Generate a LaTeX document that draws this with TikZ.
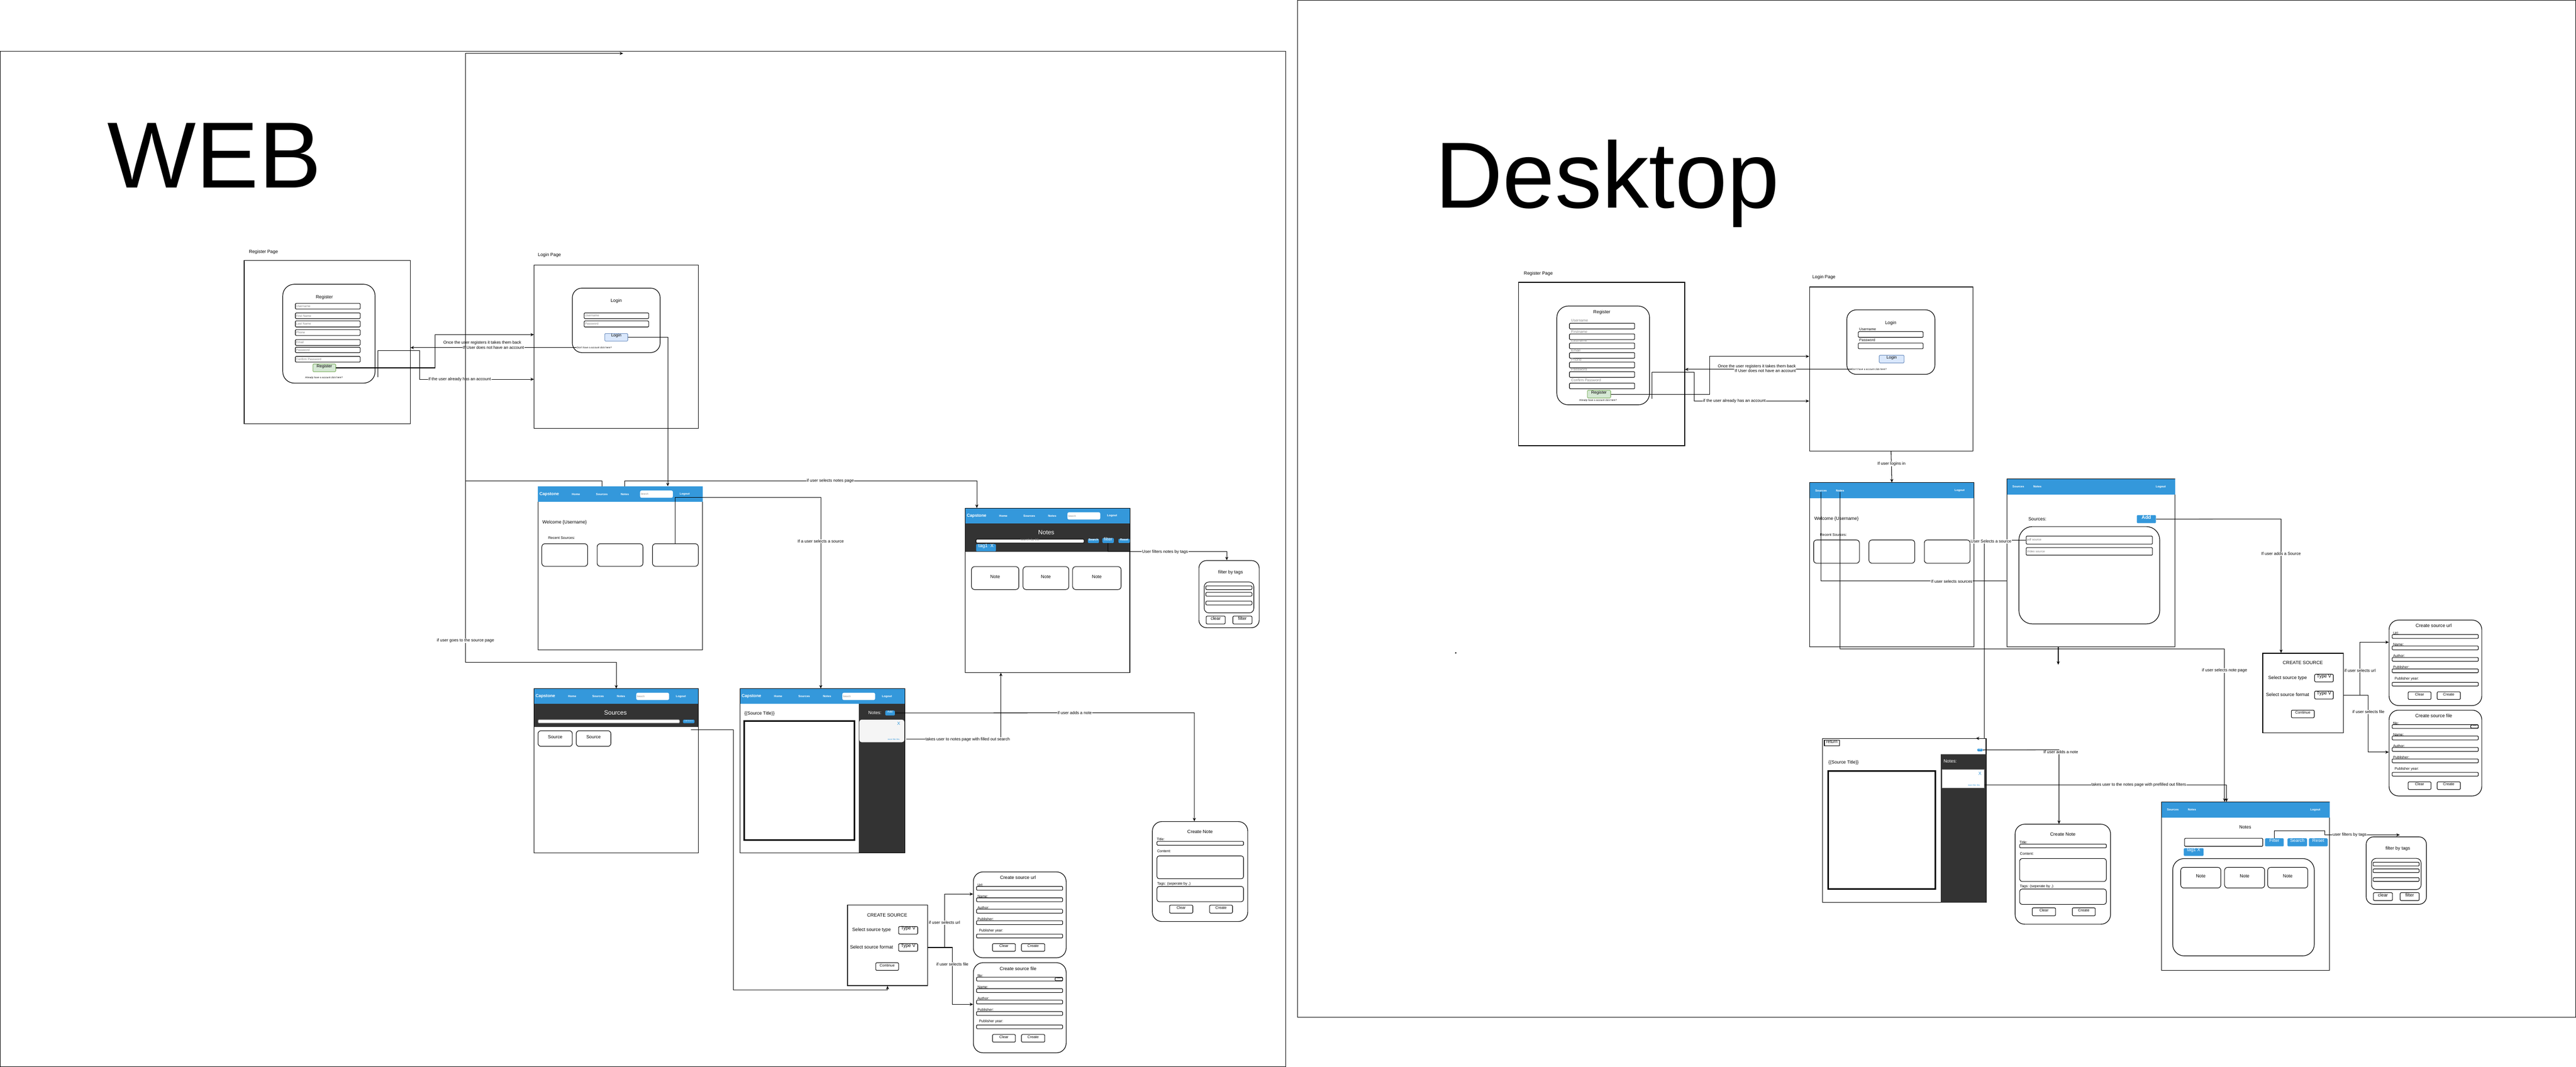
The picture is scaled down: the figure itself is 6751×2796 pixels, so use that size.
\documentclass[tikz,border=0pt]{standalone}
\usepackage{fontspec}
\setmainfont{Liberation Sans}
\usetikzlibrary{arrows.meta, fit, positioning}

\definecolor{navblue}{HTML}{3498DB}
\definecolor{darkband}{HTML}{333333}
\definecolor{regfill}{HTML}{D5E8D4}
\definecolor{regline}{HTML}{82B366}
\definecolor{logfill}{HTML}{DAE8FC}
\definecolor{logline}{HTML}{6C8EBF}
\definecolor{hintgray}{HTML}{808080}
\definecolor{cardgray}{HTML}{F5F5F5}
\definecolor{linkblue}{HTML}{3498DB}

\newcommand{\fs}[1]{\fontsize{#1}{#1}\selectfont}
\newcommand{\ui}[5][]{\node[#1, fit={(#3) (#4)}] (#2) {#5};}

\tikzset{
  page/.style={draw, line width=0.45pt, inner sep=0pt},
  card/.style={draw, line width=0.45pt, rounded corners=0.25cm, inner sep=0pt},
  listbox/.style={draw, line width=0.4pt, rounded corners=0.12cm, inner sep=0pt},
  tile/.style={draw, line width=0.4pt, rounded corners=0.08cm, inner sep=0pt, font=\fs{3.4}},
  field/.style={draw, line width=0.4pt, rounded corners=0.02cm, inner sep=0pt, fill=white},
  area/.style={draw, line width=0.4pt, rounded corners=0.06cm, inner sep=0pt},
  navbar/.style={fill=navblue, inner sep=0pt},
  band/.style={fill=darkband, inner sep=0pt},
  navtxt/.style={text=white, font=\fs{2.2}\bfseries, inner sep=0pt},
  brand/.style={text=white, font=\fs{3.2}\bfseries, inner sep=0pt},
  searchbox/.style={fill=white, rounded corners=0.04cm, inner sep=0pt},
  bluebtn/.style={fill=navblue, text=white, rounded corners=0.02cm, inner sep=0pt},
  okbtn/.style={draw, line width=0.4pt, rounded corners=0.03cm, inner sep=0pt, font=\fs{2.8}},
  hint/.style={text=hintgray, font=\fs{2.3}, inner sep=0pt},
  flbl/.style={font=\fs{2.7}, inner sep=0pt},
  ttl/.style={font=\fs{3.5}, inner sep=0pt},
  txt/.style={font=\fs{3.4}, inner sep=0pt},
  lbl/.style={fill=white, font=\fs{3.1}, inner sep=0.3pt},
  fine/.style={font=\fs{1.8}, inner sep=0pt},
  flow/.style={line width=0.4pt, -{Stealth[length=0.9mm, width=0.8mm]}},
  wire/.style={line width=0.4pt},
  doc/.style={draw, line width=1.2pt, inner sep=0pt},
}

% web header bar contents
\newcommand{\webnav}[1]{%
  \node[brand] (#1cap) at ([xshift=0.30cm]#1.west) {Capstone};
  \node[navtxt] (#1home) at ([xshift=1.00cm]#1.west) {Home};
  \node[navtxt] (#1src) at ([xshift=1.68cm]#1.west) {Sources};
  \node[navtxt] (#1nts) at ([xshift=2.28cm]#1.west) {Notes};
  \node[searchbox, minimum width=0.86cm, minimum height=0.19cm] (#1find) at ([xshift=3.11cm]#1.west) {};
  \node[hint, font=\fs{1.8}, anchor=west] (#1hint) at ([xshift=0.02cm]#1find.west) {Search};
  \node[navtxt] (#1out) at ([xshift=3.85cm]#1.west) {Logout};
}
% desktop header bar contents
\newcommand{\desknav}[1]{%
  \node[navtxt] (#1src) at ([xshift=0.30cm]#1.west) {Sources};
  \node[navtxt] (#1nts) at ([xshift=0.80cm]#1.west) {Notes};
  \node[navtxt] (#1out) at ([xshift=-0.38cm]#1.east) {Logout};
}
% create source form (name, x, y, height, title, first label)
\newcommand{\srcform}[6]{%
  \ui[card]{#1}{#2,#3}{#2+243,#3+#4}{}
  \node[ttl] (#1ttl) at (#2+117,#3+15) {#5};
  \node[flbl, anchor=west] (#1l1) at (#2+10,#3+34) {#6};
  \ui[field]{#1f1}{#2+8,#3+38}{#2+234,#3+48}{}
  \foreach \k/\lab/\ly in {2/Name:/64, 3/Author:/94, 4/Publisher:/124} {
    \node[flbl, anchor=west] (#1l\k) at (#2+10,#3+\ly) {\lab};
    \ui[field]{#1f\k}{#2+8,#3+\ly+4}{#2+234,#3+\ly+14}{}
  }
  \node[flbl, anchor=west] (#1l5) at (#2+14,#3+154) {Publisher year:};
  \ui[field]{#1f5}{#2+8,#3+163}{#2+234,#3+173}{}
  \ui[okbtn]{#1clr}{#2+50,#3+188}{#2+110,#3+208}{Clear}
  \ui[okbtn]{#1mk}{#2+126,#3+188}{#2+187,#3+208}{Create}
}
% create note form (name, x, y)
\newcommand{\noteform}[3]{%
  \ui[card]{#1}{#2,#3}{#2+250,#3+262}{}
  \node[ttl] (#1ttl) at (#2+125,#3+27) {Create Note};
  \node[flbl, anchor=west] (#1l1) at (#2+11,#3+47) {Title:};
  \ui[field]{#1f1}{#2+12,#3+52}{#2+239,#3+62}{}
  \node[flbl, anchor=west] (#1l2) at (#2+12,#3+78) {Content:};
  \ui[area]{#1f2}{#2+12,#3+90}{#2+239,#3+150}{}
  \node[flbl, anchor=west] (#1l3) at (#2+12,#3+163) {Tags: (seperate by ,)};
  \ui[area]{#1f3}{#2+12,#3+170}{#2+239,#3+210}{}
  \ui[okbtn]{#1clr}{#2+45,#3+219}{#2+106,#3+240}{Clear}
  \ui[okbtn]{#1mk}{#2+150,#3+219}{#2+210,#3+240}{Create}
}
% tag filter popup (name, x, y, height)
\newcommand{\tagfilter}[4]{%
  \ui[card, rounded corners=0.2cm]{#1}{#2,#3}{#2+158,#3+#4}{}
  \node[txt] (#1ttl) at (#2+83,#3+0.179*#4) {filter by tags};
  \ui[listbox]{#1list}{#2+14,#3+0.32*#4}{#2+144,#3+0.78*#4}{}
  \foreach \k/\ta/\tb in {1/0.377/0.432, 2/0.475/0.53, 3/0.605/0.66} {
    \ui[field]{#1r\k}{#2+18,#3+\ta*#4}{#2+139,#3+\tb*#4}{}
  }
  \ui[okbtn, font=\fs{3.4}]{#1clr}{#2+19,#3+0.827*#4}{#2+69,#3+0.944*#4}{clear}
  \ui[okbtn, font=\fs{3.4}]{#1go}{#2+89,#3+0.827*#4}{#2+139,#3+0.944*#4}{filter}
}

\begin{document}
\begin{tikzpicture}[x=0.01cm, y=-0.01cm]
\useasboundingbox (0,0) rectangle (6751,2796);

%frames and titles
\ui[page, line width=0.4pt]{webframe}{1,134}{3370,2795}{}
\ui[page, line width=0.4pt]{deskframe}{3400,1}{6750,2666}{}
\node[font=\fs{70}, anchor=base west, inner sep=0pt] (webttl) at (281,492) {WEB};
\node[font=\fs{70}, anchor=base west, inner sep=0pt] (deskttl) at (3760,545) {Desktop};
\fill (3815,1711) circle[radius=0.02cm];

%web register page
\node[txt, anchor=west] (wreglbl) at (652,660) {Register Page};
\ui[page]{wregpage}{640,683}{1075,1111}{}
\ui[card, rounded corners=0.3cm]{wregcard}{741,745}{983,1004}{}
\node[txt] (wregttl) at (850,779) {Register};
\foreach \nm/\ya/\yb/\tx in {wru/795/810/Username, wrf/820/835/First Name, wrl/841/857/Last Name, wrp/864/879/Phone, wre/890/905/Email, wrw/910/924/Password, wrc/934/949/Confirm Password} {
  \ui[field]{\nm}{774,\ya}{944,\yb}{}
  \node[hint, anchor=west] (\nm-t) at ([xshift=0.02cm]\nm.west) {\tx};
}
\ui[fill=regfill, draw=regline, rounded corners=0.02cm, inner sep=0pt, font=\fs{3.1}]{wregbtn}{820,954}{880,974}{Register}
\node[fine] (wregold) at (849,990) {Already have a account click here?};

%web login page
\node[txt, anchor=west] (wloglbl) at (1409,668) {Login Page};
\ui[page]{wlogpage}{1400,695}{1830,1123}{}
\ui[card]{wlogcard}{1500,755}{1730,924}{}
\node[txt] (wlogttl) at (1615,789) {Login};
\ui[field]{wlu}{1531,820}{1700,835}{}
\node[hint, anchor=west] (wlu-t) at ([xshift=0.02cm]wlu.west) {Username};
\ui[field]{wlp}{1531,841}{1700,857}{}
\node[hint, anchor=west] (wlp-t) at ([xshift=0.02cm]wlp.west) {Password};
\ui[fill=logfill, draw=logline, rounded corners=0.02cm, inner sep=0pt, font=\fs{3.1}]{wlogbtn}{1585,874}{1645,894}{Login}
\node[fine, anchor=west] (wlogno) at (1511,911) {Don't have a account click here?};

%web register <-> login
\coordinate (wjoin) at (1140,877);
\draw[flow] (wregbtn.east) -| (wjoin) -- (wjoin -| wlogpage.west);
\draw[flow] (wlogno.west) -- (wlogno.west -| wregpage.east) node[lbl, pos=0.5] (wnoacc) {If User does not have an account};
\node[lbl] (wback) at (1264,898) {Once the user registers it takes them back};
\coordinate (wold) at (991,989);
\coordinate (wbendA) at (1100,919);
\coordinate (wbendB) at (1100,994);
\draw[flow] (wold) |- (wbendA) -- (wbendB) -- (wbendB -| wlogpage.west) node[lbl, pos=0.35] (whasacc) {if the user already has an account};

%web home page
\ui[page]{whome}{1410,1275}{1841,1703}{}
\ui[navbar]{whomebar}{1410,1275}{1841,1315}{}
\webnav{whomebar}
\node[txt, anchor=west] (whomehi) at (1421,1369) {Welcome \{Username\}};
\node[flbl, anchor=west] (whomerec) at (1436,1410) {Recent Sources:};
\ui[tile]{whc1}{1420,1425}{1540,1484}{}
\ui[tile]{whc2}{1565,1425}{1685,1484}{}
\ui[tile]{whc3}{1710,1425}{1830,1484}{}

%web login -> home
\coordinate (wlogturn) at (1750,884);
\draw[flow] (wlogbtn.east) -- (wlogturn) -- (wlogturn |- whome.north);

%web sources page
\ui[page]{wsrc}{1400,1805}{1830,2235}{}
\ui[navbar]{wsrcbar}{1400,1805}{1830,1845}{}
\webnav{wsrcbar}
\ui[band]{wsrcband}{1400,1845}{1830,1905}{}
\node[txt, text=white, font=\fs{4.6}] (wsrcttl) at (1613,1868) {Sources};
\ui[field, draw=hintgray]{wsrcfind}{1410,1886}{1781,1895}{}
\ui[bluebtn, font=\fs{1.2}]{wsrcadd}{1790,1886}{1820,1895}{Add Source}
\ui[tile]{wsc1}{1410,1915}{1500,1956}{Source}
\ui[tile]{wsc2}{1510,1915}{1601,1956}{Source}

%web source view
\ui[page]{wview}{1940,1805}{2371,2235}{}
\ui[navbar]{wviewbar}{1940,1805}{2371,1845}{}
\webnav{wviewbar}
\ui[band]{wviewside}{2251,1845}{2371,2235}{}
\node[txt, anchor=west] (wviewttl) at (1950,1870) {\{\{Source Title\}\}};
\ui[doc]{wviewdoc}{1950,1889}{2239,2201}{}
\node[txt, text=white] (wviewnts) at (2293,1868) {Notes:};
\ui[bluebtn, font=\fs{2.2}]{wviewadd}{2320,1862}{2345,1875}{Add}
\ui[fill=cardgray, rounded corners=0.06cm, inner sep=0pt]{wviewnote}{2252,1886}{2370,1945}{}
\node[txt, text=linkblue] (wviewx) at (2355,1896) {X};
\node[fine, text=linkblue, font=\fs{1.5}] (wviewmore) at (2342,1938) {more like this};

%web notes page
\ui[page]{wnotes}{2530,1332}{2961,1763}{}
\ui[navbar]{wnotesbar}{2530,1332}{2961,1372}{}
\webnav{wnotesbar}
\ui[band]{wnotesband}{2530,1372}{2961,1446}{}
\node[txt, text=white, font=\fs{4.6}] (wnotesttl) at (2742,1395) {Notes};
\ui[field, text=hintgray, font=\fs{2.3}]{wnfind}{2558,1413}{2841,1423}{search by title}
\ui[bluebtn, font=\fs{2.2}\bfseries]{wnsearch}{2851,1412}{2880,1423}{Search}
\ui[bluebtn, font=\fs{3.3}]{wnfilter}{2889,1410}{2919,1423}{filter}
\ui[bluebtn, font=\fs{2.2}\bfseries]{wnreset}{2931,1412}{2961,1423}{Reset}
\ui[bluebtn, font=\fs{3.6}]{wntag}{2558,1426}{2610,1445}{tag1\ \ X}
\ui[tile]{wnc1}{2546,1485}{2670,1545}{Note}
\ui[tile]{wnc2}{2681,1485}{2801,1545}{Note}
\ui[tile]{wnc3}{2811,1485}{2938,1545}{Note}
\tagfilter{wfbox}{3142}{1469}{176}

%web create note
\noteform{wnote}{3020}{2153}

%web create source
\ui[page]{wcs}{2221,2372}{2431,2583}{}
\node[ttl] (wcsttl) at (2325,2398) {CREATE SOURCE};
\node[ttl] (wcstypel) at (2284,2437) {Select source type};
\ui[okbtn, font=\fs{3.5}]{wcstype}{2355,2428}{2405,2448}{Type V}
\node[ttl] (wcsfmtl) at (2284,2482) {Select source format};
\ui[okbtn, font=\fs{3.5}]{wcsfmt}{2355,2473}{2405,2493}{Type V}
\ui[okbtn]{wcsgo}{2295,2523}{2355,2543}{Continue}
\srcform{wcurl}{2551}{2285}{225}{Create source url}{Url:}
\srcform{wcfile}{2551}{2523}{236}{Create source file}{file:}
\ui[field, font=\fs{2.4}]{wcfilepick}{2765,2562}{2785,2570}{{-}{-}{-}}

%web connectors
\coordinate (wntsturn) at (2560,1261);
\draw[flow] (whomebarnts |- whomebar.north) |- (wntsturn) -- (wntsturn |- wnotes.north);
\node[lbl] (wntslbl) at (2176,1260) {if user selects notes page};
\coordinate (wcardturn) at (2151,1303);
\draw[flow] (whc3.north) |- (wcardturn) -- (wcardturn |- wview.north) node[lbl, pos=0.23] (wcardlbl) {If a user selects a source};
\coordinate (waddturn) at (3130,1868);
\draw[flow] (wviewadd.east) -- (waddturn) node[lbl, pos=0.6] (waddlbl) {if user adds a note} -- (waddturn |- wnote.north);
\coordinate (wmore) at (2375,1937);
\coordinate (wmoreup) at (2623,1763);
\draw[flow] (wmore) -| (wmoreup);
\node[lbl] (wmorelbl) at (2536,1938) {takes user to notes page with filled out search};
\coordinate (wfturn) at (3215,1446);
\draw[flow] (wnfilter.south) |- (wfturn) node[lbl, pos=0.74] (wflbl) {User filters notes by tags} -- (wfturn |- wfbox.north);
\coordinate (wsrcfree) at (1811,1912);
\coordinate (wsrcdown) at (1922,2595);
\draw[flow] (wsrcfree) -| (wsrcdown) -| (wcs.south);
\coordinate (wcsurl) at (2475,2343);
\coordinate (wcsfile) at (2496,2632);
\draw[flow] (wcs.east |- wcsfmt) -| (wcsurl) -- (wcsurl -| wcurl.west);
\draw[flow] (wcs.east |- wcsfmt) -| (wcsfile) -- (wcsfile -| wcfile.west);
\node[lbl] (wurllbl) at (2475,2418) {if user selects url};
\node[lbl] (wfilelbl) at (2496,2527) {if user selects file};
\coordinate (wbus) at (1220,1261);
\coordinate (wbusend) at (1220,1736);
\coordinate (wtop) at (1633,140);
\draw[flow] (whomebarsrc |- whomebar.north) |- (wbus) -- (wbusend) node[lbl, pos=0.88] (wbuslbl) {if user goes to the source page} -| (wsrcbar.north);
\draw[flow] (wbus) -- (wbus |- wtop) -- (wtop);

%desktop register page
\node[txt, anchor=west] (dreglbl) at (3993,717) {Register Page};
\ui[page]{dregpage}{3980,740}{4415,1168}{}
\ui[card, rounded corners=0.3cm]{dregcard}{4080,802}{4323,1061}{}
\node[txt] (dregttl) at (4198,819) {Register};
\foreach \nm/\tx/\ly/\ya/\yb in {dru/Username/840/847/862, drf/Firstname/870/875/890, drl/Lastname/893/899/914, dre/Email/918/924/939, drp/Phone/943/949/964, drw/Password/968/974/989, drc/Confirm Password/997/1004/1019} {
  \node[flbl, text=hintgray, anchor=west] (\nm-t) at (4117,\ly) {\tx};
  \ui[field]{\nm}{4113,\ya}{4284,\yb}{}
}
\ui[fill=regfill, draw=regline, rounded corners=0.02cm, inner sep=0pt, font=\fs{3.1}]{dregbtn}{4160,1023}{4221,1043}{Register}
\node[fine] (dregold) at (4188,1049) {Already have a account click here?};

%desktop login page
\node[txt, anchor=west] (dloglbl) at (4749,726) {Login Page};
\ui[page]{dlogpage}{4742,752}{5170,1182}{}
\ui[card]{dlogcard}{4840,812}{5071,981}{}
\node[txt] (dlogttl) at (4955,847) {Login};
\node[flbl, anchor=west] (dlu-t) at (4872,863) {Username};
\ui[field]{dlu}{4870,869}{5040,884}{}
\node[flbl, anchor=west] (dlp-t) at (4872,891) {Password};
\ui[field]{dlp}{4870,899}{5040,914}{}
\ui[fill=logfill, draw=logline, rounded corners=0.02cm, inner sep=0pt, font=\fs{3.1}]{dlogbtn}{4925,931}{4990,951}{Login}
\node[fine, anchor=west] (dlogno) at (4852,968) {Don't have a account click here?};

%desktop register <-> login
\coordinate (djoin) at (4480,934);
\draw[flow] (dregbtn.east) -| (djoin) -- (djoin -| dlogpage.west);
\draw[flow] (dlogno.west) -- (dlogno.west -| dregpage.east);
\node[lbl, anchor=east] (dnoacc) at (4708,972) {If User does not have an account};
\node[lbl, anchor=east] (dback) at (4708,961) {Once the user registers it takes them back};
\coordinate (dold) at (4330,1045);
\coordinate (dbendA) at (4440,976);
\coordinate (dbendB) at (4440,1051);
\draw[flow] (dold) |- (dbendA) -- (dbendB) -- (dbendB -| dlogpage.west) node[lbl, pos=0.35] (dhasacc) {if the user already has an account};

%desktop home page
\ui[page]{dhome}{4743,1265}{5173,1695}{}
\ui[navbar]{dhomebar}{4743,1265}{5173,1306}{}
\desknav{dhomebar}
\node[txt, anchor=west] (dhomehi) at (4754,1360) {Welcome \{Username\}};
\node[flbl, anchor=west] (dhomerec) at (4769,1401) {Recent Sources:};
\ui[tile]{dhc1}{4753,1415}{4873,1476}{}
\ui[tile]{dhc2}{4898,1415}{5018,1476}{}
\ui[tile]{dhc3}{5043,1415}{5163,1476}{}
\draw[flow] (dlogpage.south) -- (dhome.north) node[lbl, pos=0.4] (dinlbl) {If user logins in};

%desktop sources page
\ui[page]{dsrc}{5260,1255}{5700,1695}{}
\ui[navbar]{dsrcbar}{5260,1255}{5700,1296}{}
\desknav{dsrcbar}
\node[txt, anchor=west] (dsrcttl) at (5315,1360) {Sources:};
\ui[bluebtn, font=\fs{3.6}\bfseries]{dsrcadd}{5600,1350}{5650,1371}{Add}
\ui[card, rounded corners=0.35cm]{dsrclist}{5291,1380}{5660,1635}{}
\ui[field]{dpdf}{5310,1405}{5641,1426}{}
\node[hint, anchor=west] (dpdf-t) at ([xshift=0.02cm]dpdf.west) {pdf source};
\ui[field]{dvid}{5310,1435}{5641,1455}{}
\node[hint, anchor=west] (dvid-t) at ([xshift=0.02cm]dvid.west) {Video source};

%desktop create source
\ui[page]{dcs}{5930,1712}{6141,1921}{}
\node[ttl] (dcsttl) at (6035,1737) {CREATE SOURCE};
\node[ttl] (dcstypel) at (5995,1777) {Select source type};
\ui[okbtn, font=\fs{3.5}]{dcstype}{6066,1767}{6115,1787}{Type V}
\node[ttl] (dcsfmtl) at (5995,1821) {Select source format};
\ui[okbtn, font=\fs{3.5}]{dcsfmt}{6066,1811}{6115,1832}{Type V}
\ui[okbtn]{dcsgo}{6005,1861}{6065,1881}{Continue}
\srcform{dcurl}{6261}{1625}{224}{Create source url}{Url:}
\srcform{dcfile}{6261}{1861}{225}{Create source file}{file:}
\ui[field, font=\fs{2.4}]{dcfilepick}{6475,1900}{6495,1908}{{-}{-}{-}}

%desktop source view
\ui[page]{dview}{4776,1936}{5205,2365}{}
\ui[draw, line width=0.4pt, inner sep=0pt, font=\fs{3.2}]{dviewback}{4781,1940}{4821,1955}{return}
\ui[band]{dviewside}{5086,1976}{5205,2365}{}
\ui[bluebtn, font=\fs{1.4}]{dviewadd}{5182,1962}{5196,1969}{Add}
\node[txt, text=white, anchor=west] (dviewnts) at (5093,1995) {Notes:};
\ui[fill=white, draw=hintgray, line width=0.4pt, inner sep=0pt]{dviewnote}{5090,2016}{5200,2065}{}
\node[txt, text=linkblue] (dviewx) at (5189,2027) {X};
\node[fine, text=linkblue, font=\fs{1.5}] (dviewmore) at (5173,2058) {more like this};
\node[txt, anchor=west] (dviewttl) at (4791,1998) {\{\{Source Title\}\}};
\ui[doc]{dviewdoc}{4791,2021}{5072,2330}{}

%desktop create note
\noteform{dnote}{5281}{2160}

%desktop notes page
\ui[page]{dnotes}{5665,2102}{6105,2543}{}
\ui[navbar]{dnotesbar}{5665,2102}{6105,2143}{}
\desknav{dnotesbar}
\node[txt] (dnotesttl) at (5884,2168) {Notes};
\ui[field]{dnfind}{5725,2197}{5930,2218}{}
\ui[bluebtn, font=\fs{3.4}]{dnfilter}{5936,2197}{5985,2218}{Filter}
\ui[bluebtn, font=\fs{3.4}]{dnsearch}{5995,2197}{6046,2218}{Search}
\ui[bluebtn, font=\fs{3.4}]{dnreset}{6051,2197}{6100,2218}{Reset}
\ui[bluebtn, font=\fs{3.4}]{dntag}{5723,2223}{5775,2243}{tag1\ X}
\ui[card, rounded corners=0.3cm]{dnlist}{5694,2250}{6065,2505}{}
\ui[tile]{dnc1}{5715,2273}{5820,2327}{Note}
\ui[tile]{dnc2}{5830,2273}{5935,2327}{Note}
\ui[tile]{dnc3}{5943,2273}{6048,2327}{Note}
\tagfilter{dfbox}{6201}{2193}{177}

%desktop connectors
\coordinate (dsrcturn) at (4773,1522);
\draw[wire] (dhomebarsrc.south) |- (dsrcturn -| dsrc.west);
\node[lbl] (dsrclbl) at (5115,1524) {If user selects sources};
\coordinate (dntsturn) at (5830,1701);
\draw[flow] (dhomebarnts.south) |- (dntsturn) -- (dntsturn |- dnotes.north) node[lbl, pos=0.14] (dntslbl) {if user selects note page};
\coordinate (dpick) at (5200,1935);
\coordinate (dviewin) at (5178,1935);
\draw[flow] (dpdf.west) -| (dpick) -- (dviewin);
\node[lbl] (dpicklbl) at (5218,1419) {User Selects a source};
\coordinate (dsrcvoid) at (5394,1742);
\draw[flow] (dsrc.south -| dsrcvoid) -- (dsrcvoid);
\coordinate (daddturn) at (5978,1360);
\draw[flow] (dsrcadd.east) -- (daddturn) -- (daddturn |- dcs.north) node[lbl, pos=0.26] (daddlbl) {If user adds a Source};
\coordinate (dcsurl) at (6185,1683);
\coordinate (dcsfile) at (6206,1971);
\draw[flow] (dcs.east |- dcsfmt) -| (dcsurl) -- (dcsurl -| dcurl.west);
\draw[flow] (dcs.east |- dcsfmt) -| (dcsfile) -- (dcsfile -| dcfile.west);
\node[lbl] (durllbl) at (6185,1757) {if user selects url};
\node[lbl] (dfilelbl) at (6207,1866) {if user selects file};
\coordinate (daddnote) at (5396,1965);
\draw[flow] (dviewadd.east) -- (daddnote) -- (daddnote |- dnote.north);
\node[lbl, anchor=west] (dnotelbl) at (5354,1971) {If user adds a note};
\coordinate (dmoreturn) at (5835,2057);
\draw[flow] (dviewnote.east |- dmoreturn) -- (dmoreturn) -- (dmoreturn |- dnotes.north);
\node[lbl] (dmorelbl) at (5605,2057) {takes user to the notes page with prefilled out filters};
\coordinate (dfa) at (6093,2177);
\coordinate (dfb) at (6093,2188);
\coordinate (dfin) at (6289,2188);
\draw[flow] (dnfilter.north) |- (dfa) -- (dfb) -- (dfin) node[lbl, pos=0.33] (dflbl) {user filters by tags};

\end{tikzpicture}
\end{document}
